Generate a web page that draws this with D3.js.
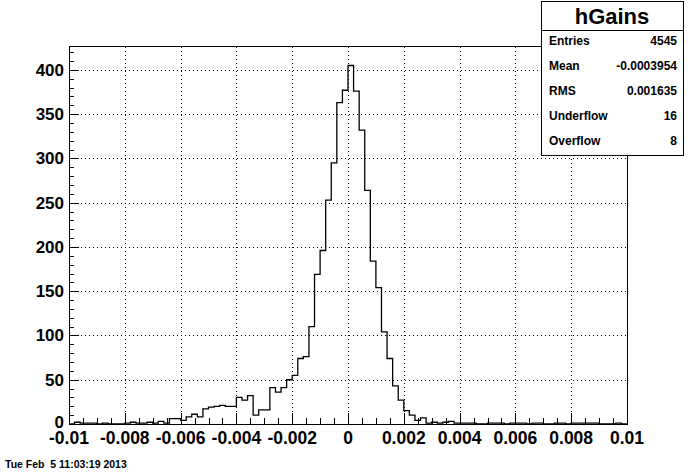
<!DOCTYPE html>
<html>
<head>
<meta charset="utf-8">
<script src="https://cdn.jsdelivr.net/npm/d3@7"></script>
<style>
  body { margin: 0; background: #fff; }
  svg { display: block; font-family: "Liberation Sans", Arial, sans-serif; font-weight: bold; }
</style>
</head>
<body>
<svg id="chart" width="696" height="472"></svg>
<script>
// histogram hGains: 100 bins from -0.01 to 0.01
const xRange = [-0.01, 0.01];
const nBins = 100;
const counts = [
  0, 2, 1, 1, 1, 0, 1, 0, 0, 0,
  1, 2, 1, 1, 2, 1, 3, 1, 6, 6,
  4, 8, 11, 8, 17, 19, 20, 21, 20, 20,
  30, 27, 32, 10, 16, 16, 41, 36, 41, 50,
  55, 74, 76, 110, 169, 196, 253, 295, 363, 377,
  405, 376, 332, 264, 184, 154, 104, 74, 43, 27,
  15, 10, 4, 7, 1, 2, 1, 2, 3, 1,
  1, 1, 1, 0, 0, 1, 1, 1, 0, 1,
  1, 1, 0, 1, 1, 0, 0, 1, 1, 0,
  1, 1, 1, 1, 1, 0, 0, 0, 1, 0
];
const xTicks = [-0.01, -0.008, -0.006, -0.004, -0.002, 0, 0.002, 0.004, 0.006, 0.008, 0.01];
const xTickLabels = ["-0.01", "-0.008", "-0.006", "-0.004", "-0.002", "0", "0.002", "0.004", "0.006", "0.008", "0.01"];
const yTicks = [0, 50, 100, 150, 200, 250, 300, 350, 400];
const statLabels = ["Entries", "Mean", "RMS", "Underflow", "Overflow"];
const statValues = ["4545", "-0.0003954", "0.001635", "16", "8"];
const dateText = "Tue Feb  5 11:03:19 2013";

const svg = d3.select("#chart");
const frame = { left: 69, right: 627, top: 46, bottom: 424 };

const x = d3.scaleLinear().domain(xRange).range([frame.left, frame.right]);
const y = d3.scaleLinear().domain([0, 427]).range([frame.bottom, frame.top]);
const binW = (xRange[1] - xRange[0]) / nBins;

// dotted grid on major ticks
const grid = svg.append("g").attr("stroke", "#000").attr("stroke-width", 1)
  .attr("stroke-dasharray", "1,3").attr("shape-rendering", "crispEdges");
grid.selectAll("line.gx").data(xTicks.slice(1, -1)).enter().append("line")
  .attr("x1", d => Math.round(x(d)) + 0.5).attr("x2", d => Math.round(x(d)) + 0.5)
  .attr("y1", frame.bottom).attr("y2", frame.top);
grid.selectAll("line.gy").data(yTicks.slice(1)).enter().append("line")
  .attr("y1", d => Math.round(y(d)) + 0.5).attr("y2", d => Math.round(y(d)) + 0.5)
  .attr("x1", frame.left).attr("x2", frame.right);

// histogram outline as a step path
const pts = [[x(xRange[0]), y(0)]];
counts.forEach((c, i) => {
  const x0 = xRange[0] + i * binW;
  pts.push([x(x0), y(c)], [x(x0 + binW), y(c)]);
});
pts.push([x(xRange[1]), y(0)]);
svg.append("path")
  .attr("d", d3.line()(pts))
  .attr("fill", "none").attr("stroke", "#000").attr("stroke-width", 1.3);

// frame
svg.append("rect")
  .attr("x", frame.left + 0.5).attr("y", frame.top + 0.5)
  .attr("width", frame.right - frame.left).attr("height", frame.bottom - frame.top)
  .attr("fill", "none").attr("stroke", "#000").attr("shape-rendering", "crispEdges");

// x axis ticks (inside, pointing up)
const xMinor = d3.range(0, 41).map(i => xRange[0] + i * 0.0005);
const ax = svg.append("g").attr("stroke", "#000").attr("shape-rendering", "crispEdges");
ax.selectAll("line").data(xMinor).enter().append("line")
  .attr("x1", d => Math.round(x(d)) + 0.5).attr("x2", d => Math.round(x(d)) + 0.5)
  .attr("y1", frame.bottom)
  .attr("y2", (d, i) => frame.bottom - (i % 4 === 0 ? 11 : 6));
svg.append("g").selectAll("text").data(xTicks).enter().append("text")
  .attr("x", d => x(d)).attr("y", 444)
  .attr("text-anchor", "middle").attr("font-size", 17.5)
  .text((d, i) => xTickLabels[i]);

// y axis ticks (inside, pointing right)
const yMinor = d3.range(0, 43).map(i => i * 10);
const ay = svg.append("g").attr("stroke", "#000").attr("shape-rendering", "crispEdges");
ay.selectAll("line").data(yMinor).enter().append("line")
  .attr("y1", d => Math.round(y(d)) + 0.5).attr("y2", d => Math.round(y(d)) + 0.5)
  .attr("x1", frame.left)
  .attr("x2", (d, i) => frame.left + (i % 5 === 0 ? 10 : 5));
svg.append("g").selectAll("text").data(yTicks).enter().append("text")
  .attr("x", 64).attr("y", d => y(d) + (d === 0 ? 4 : 6))
  .attr("text-anchor", "end").attr("font-size", 17)
  .text(d => d);

// stats box
const box = { x: 541, y: 1, w: 142, h: 154 };
const sb = svg.append("g");
sb.append("rect").attr("x", box.x + 0.5).attr("y", box.y + 0.5)
  .attr("width", box.w).attr("height", box.h)
  .attr("fill", "#fff").attr("stroke", "#000").attr("shape-rendering", "crispEdges");
sb.append("line").attr("x1", box.x).attr("x2", box.x + box.w)
  .attr("y1", 30.5).attr("y2", 30.5).attr("stroke", "#000").attr("shape-rendering", "crispEdges");
sb.append("text").attr("x", box.x + box.w / 2).attr("y", 24)
  .attr("text-anchor", "middle").attr("font-size", 22).text("hGains");
statLabels.forEach((lab, i) => {
  const ty = 45 + i * 25;
  sb.append("text").attr("x", 549).attr("y", ty).attr("font-size", 12).text(lab);
  sb.append("text").attr("x", 677).attr("y", ty).attr("text-anchor", "end")
    .attr("font-size", 12).text(statValues[i]);
});

// date stamp
svg.append("text").attr("x", 5).attr("y", 468)
  .attr("font-size", 10.5).style("white-space", "pre").text(dateText);
</script>
</body>
</html>
